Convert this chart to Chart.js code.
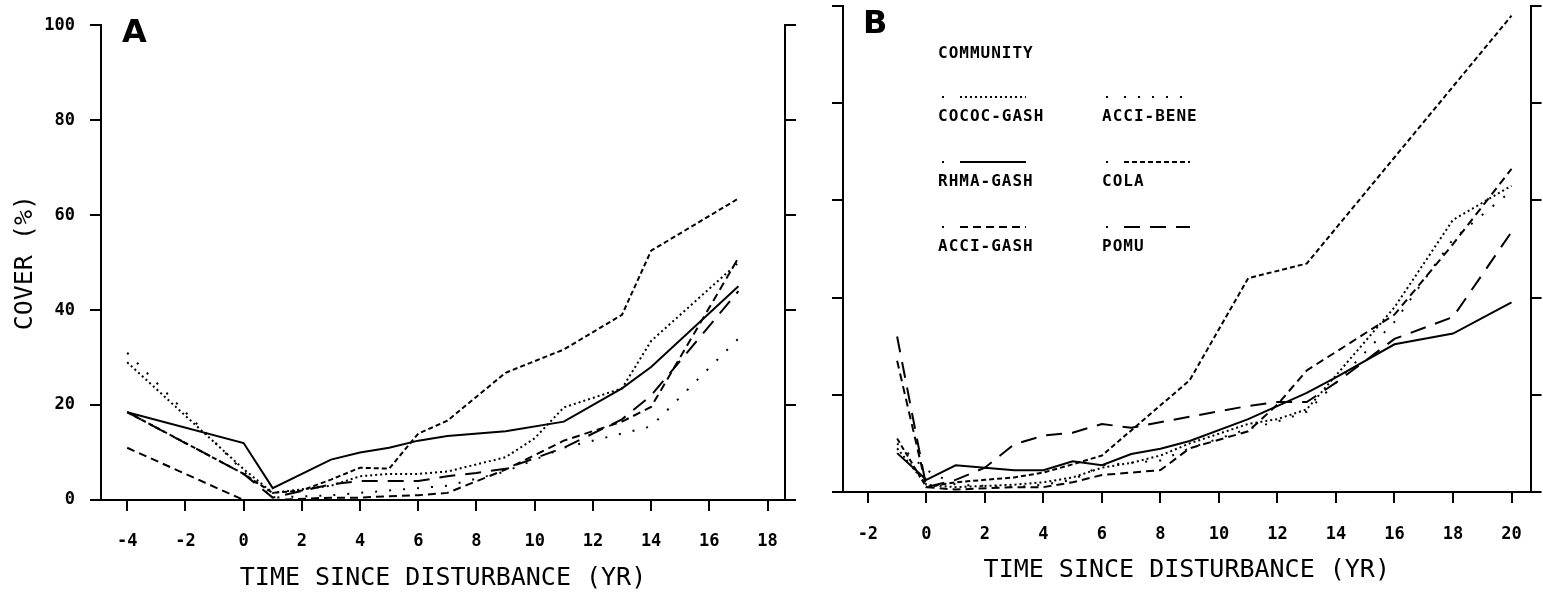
<!DOCTYPE html>
<html>
<head>
<meta charset="utf-8">
<script src="https://cdn.jsdelivr.net/npm/chart.js@4.4.1/dist/chart.umd.min.js"></script>
<style>
  body { margin: 0; background: #fff; }
  .panel { position: absolute; top: 0; height: 595px; }
  #wrapA { left: 0; width: 800px; }
  #wrapB { left: 800px; width: 743px; }
</style>
</head>
<body>
<div id="wrapA" class="panel"><canvas id="chartA"></canvas></div>
<div id="wrapB" class="panel"><canvas id="chartB"></canvas></div>
<script>
// community names, in legend order (left column, right column per row)
const communities = ["COCOC-GASH", "ACCI-BENE", "RHMA-GASH", "COLA", "ACCI-GASH", "POMU"];

// panel A: years since disturbance and % cover per community
const yearsA = [-4, 0, 1, 2, 3, 4, 5, 6, 7, 8, 9, 10, 11, 13, 14, 17];
const cococGashA = [29, 6.5, 1.5, null, 3, 5, 5.5, 5.5, 6, null, 9, 13, 19.5, 23.5, 33.5, 50];
const acciBeneA  = [31, 6, 0.5, null, 1, 1.5, 2, 2.5, 3, null, 6, null, 11, 14, 15.5, 34];
const rhmaGashA  = [18.5, 12, 2.5, null, 8.5, 10, 11, 12.5, 13.5, null, 14.5, null, 16.5, 23.5, 28, 45];
const colaA      = [18.5, 5.5, 1.5, 2, 4.3, 6.8, 6.6, 14, 16.7, null, 26.8, null, 31.7, 39, 52.5, 63.5];
const acciGashA  = [11, 0, 0, null, 0.5, 0.5, 0.8, 1, 1.5, null, 6.4, null, 12.5, 16.5, 19.6, 51];
const pomuA      = [18.5, 5.5, 0.5, null, 3.3, 4, 4, 4, 5, 5.7, 6.6, 8.8, 11, 17, 22, 44];

// panel B
const yearsB = [-1, 0, 1, 2, 3, 4, 5, 6, 7, 8, 9, 11, 12, 13, 14, 16, 18, 20];
const cococGashB = [9, 1.5, 1, null, 1.5, 2, 3, 5, 6, 7.5, 10, 14, 15, 17, 24, 38, 56, 63];
const acciBeneB  = [10, 4.5, 1.5, null, 1, 1.5, 2.5, 5.5, 6, 6.5, 9, 13, 14.5, 16.5, 22.5, 35, 52, 62];
const rhmaGashB  = [8, 2.5, 5.5, 5, 4.5, 4.5, 6.3, 5.5, 7.8, 8.9, 10.5, 15, null, 20.4, 23.6, 30.4, 32.6, 39];
const colaB      = [11, 1, 2, 2.5, 3, 4, 5.7, 7.5, null, null, 23, 44, null, 47, null, null, null, 98];
const acciGashB  = [27, 1, 0.5, null, 1, 1, 2, 3.5, 4, 4.5, 9, 12.5, 18, 25, null, 36.5, 51, 66.5];
const pomuB      = [32, 1, 2.5, 5, 9.8, 11.6, 12.2, 14, 13.2, null, 15.5, 17.7, 18.5, 18.5, 22.5, 31.5, 36, 53.5];

// axis ticks
const xTicksA = [-4, -2, 0, 2, 4, 6, 8, 10, 12, 14, 16, 18];
const xTicksB = [-2, 0, 2, 4, 6, 8, 10, 12, 14, 16, 18, 20];
const yTicks = [0, 20, 40, 60, 80, 100];

// line style for each community: dots, sparse dots, solid, short/medium/long dashes
const dashes = [[2, 3], [2, 12], [], [5, 3], [8, 5], [16, 10]];

const tickFont = { family: "'DejaVu Sans Mono'", size: 17, weight: "bold" };
const titleFont = { family: "'DejaVu Sans Mono'", size: 25, weight: "normal" };

function toPoints(years, values) {
  const pts = [];
  years.forEach((yr, i) => {
    if (values[i] !== null) pts.push({ x: yr, y: values[i] });
  });
  return pts;
}

function buildDatasets(years, seriesList) {
  return seriesList.map((vals, i) => ({
    label: communities[i],
    data: toPoints(years, vals),
    borderColor: "#000",
    borderWidth: 2,
    borderDash: dashes[i],
    borderCapStyle: "butt",
    pointRadius: 0,
    tension: 0,
    fill: false,
  }));
}

// big panel letter in the top left of the plot
function panelLetter(letter, x, y) {
  return {
    id: "panelLetter" + letter,
    afterDraw(chart) {
      const ctx = chart.ctx;
      ctx.save();
      ctx.fillStyle = "#000";
      ctx.font = "bold 32px 'DejaVu Sans'";
      ctx.textBaseline = "alphabetic";
      ctx.fillText(letter, x, y);
      ctx.restore();
    },
  };
}

// community key drawn inside panel B
const communityKey = {
  id: "communityKey",
  afterDraw(chart) {
    const ctx = chart.ctx;
    ctx.save();
    ctx.fillStyle = "#000";
    ctx.strokeStyle = "#000";
    ctx.font = "bold 16px 'DejaVu Sans Mono'";
    ctx.letterSpacing = "1px";
    ctx.fillText("COMMUNITY", 138, 58);
    const colX = [138, 302];
    const rowY = [97, 162, 227];
    chart.data.datasets.forEach((ds, i) => {
      const x = colX[i % 2];
      const y = rowY[Math.floor(i / 2)];
      ctx.fillRect(x + 4, y - 1, 2, 2);
      ctx.beginPath();
      ctx.lineWidth = 2;
      ctx.lineCap = "butt";
      ctx.setLineDash(ds.borderDash);
      ctx.moveTo(x + 22, y);
      ctx.lineTo(x + 88, y);
      ctx.stroke();
      ctx.setLineDash([]);
      ctx.fillText(ds.label, x, y + 24);
    });
    ctx.restore();
  },
};

function makePanel(canvasId, years, seriesList, opts) {
  const yTickValues = yTicks.map((v) => ({ value: v }));
  return new Chart(document.getElementById(canvasId), {
    type: "line",
    data: { datasets: buildDatasets(years, seriesList) },
    options: {
      responsive: true,
      maintainAspectRatio: false,
      animation: false,
      layout: { padding: { top: opts.top, left: 0, right: 0, bottom: 0 } },
      plugins: { legend: { display: false }, tooltip: { enabled: false } },
      scales: {
        x: {
          type: "linear",
          min: opts.xMin,
          max: opts.xMax,
          afterBuildTicks: (s) => { s.ticks = opts.xTicks.map((v) => ({ value: v })); },
          afterFit: (s) => { s.height = opts.bottomH; },
          border: { display: true, color: "#000", width: 2 },
          grid: { drawOnChartArea: false, drawTicks: true, tickLength: 11, color: "#000", lineWidth: 2 },
          ticks: { color: "#000", font: tickFont, padding: opts.xTickPad, maxRotation: 0, autoSkip: false },
          title: {
            display: true,
            text: "TIME SINCE DISTURBANCE (YR)",
            color: "#000",
            font: titleFont,
            padding: { top: 0, bottom: opts.titlePad },
          },
        },
        y: {
          position: "left",
          min: 0,
          max: 100,
          afterBuildTicks: (s) => { s.ticks = yTickValues.slice(); },
          afterFit: (s) => { s.width = opts.leftW; },
          border: { display: true, color: "#000", width: 2 },
          grid: { drawOnChartArea: false, drawTicks: true, tickLength: 11, color: "#000", lineWidth: 2 },
          ticks: { display: opts.yLabels, color: "#000", font: tickFont, padding: 15 },
          title: {
            display: opts.yLabels,
            text: "COVER (%)",
            color: "#000",
            font: titleFont,
            padding: { top: 10, bottom: 0 },
          },
        },
        y2: {
          position: "right",
          min: 0,
          max: 100,
          afterBuildTicks: (s) => { s.ticks = yTickValues.slice(); },
          afterFit: (s) => { s.width = opts.rightW; },
          border: { display: true, color: "#000", width: 2 },
          grid: { drawOnChartArea: false, drawTicks: true, tickLength: 11, color: "#000", lineWidth: 2 },
          ticks: { display: false },
        },
      },
    },
    plugins: opts.plugins,
  });
}

makePanel("chartA", yearsA, [cococGashA, acciBeneA, rhmaGashA, colaA, acciGashA, pomuA], {
  xMin: -4.9, xMax: 18.6, xTicks: xTicksA,
  top: 13, leftW: 101, rightW: 15, bottomH: 95,
  xTickPad: 20, titlePad: 2, yLabels: true,
  plugins: [panelLetter("A", 122, 42)],
});

makePanel("chartB", yearsB, [cococGashB, acciBeneB, rhmaGashB, colaB, acciGashB, pomuB], {
  xMin: -2.85, xMax: 20.65, xTicks: xTicksB,
  top: 6, leftW: 43, rightW: 9, bottomH: 103,
  xTickPad: 21, titlePad: 10, yLabels: false,
  plugins: [panelLetter("B", 63, 33), communityKey],
});
</script>
</body>
</html>
